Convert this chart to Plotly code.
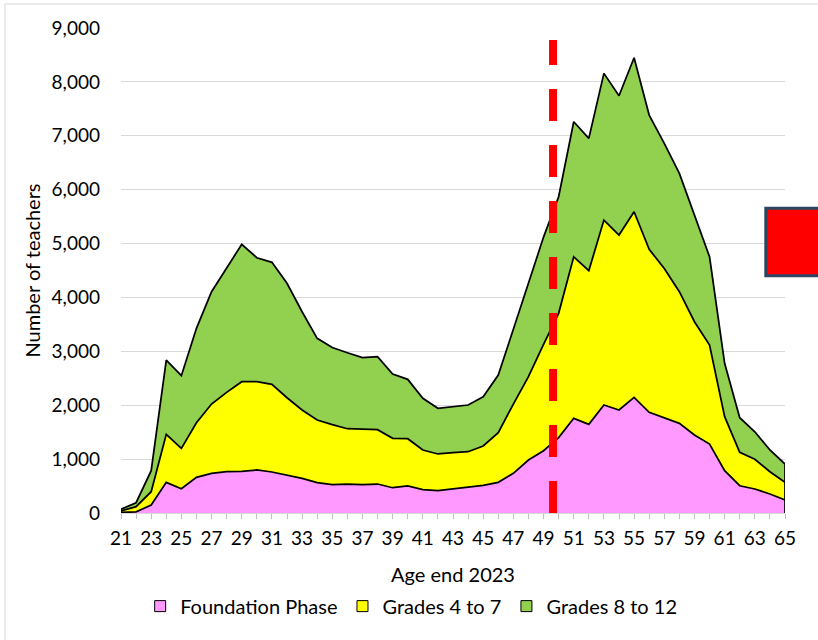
import plotly.graph_objects as go

ages = list(range(21, 66))

foundation = [10, 20, 148, 569, 451, 662, 736, 766, 773, 798,
              761, 705, 644, 562, 525, 538, 525, 538, 469, 501,
              432, 414, 451, 477, 514, 569, 736, 983, 1156, 1400,
              1757, 1645, 2004, 1911, 2146, 1868, 1768, 1664, 1447, 1280,
              785, 506, 445, 353, 241]

grades_4_7 = [27, 97, 247, 891, 749, 1013, 1286, 1473, 1663, 1638,
              1627, 1434, 1267, 1163, 1115, 1026, 1033, 1008, 917, 878,
              737, 681, 668, 660, 729, 921, 1286, 1546, 1974, 2305,
              2998, 2851, 3432, 3247, 3444, 3024, 2771, 2442, 2102, 1837,
              1002, 620, 551, 413, 328]

grades_8_12 = [32, 74, 390, 1378, 1348, 1752, 2084, 2319, 2549, 2301,
               2263, 2123, 1824, 1516, 1430, 1410, 1324, 1354, 1193, 1101,
               959, 847, 853, 867, 915, 1070, 1388, 1751, 1990, 2163,
               2505, 2456, 2722, 2585, 2858, 2492, 2320, 2196, 1980, 1638,
               990, 642, 512, 403, 340]

series_names = ["Foundation Phase", "Grades 4 to 7", "Grades 8 to 12"]
series_colors = ["#FF99FF", "#FFFF00", "#92D050"]
series_values = [foundation, grades_4_7, grades_8_12]

marker_age = 49.63       # position of the red dashed marker line
marker_top = 8776

FONT = "Lato"

fig = go.Figure()

for name, col, vals in zip(series_names, series_colors, series_values):
    fig.add_trace(go.Scatter(
        x=ages, y=vals, stackgroup="one", mode="lines",
        line=dict(color="black", width=1.75),
        fillcolor=col, name=name, showlegend=False,
    ))

# vertical edges of the stacked areas at both ends
for i in (0, -1):
    total = foundation[i] + grades_4_7[i] + grades_8_12[i]
    fig.add_trace(go.Scatter(
        x=[ages[i], ages[i]], y=[0, total], mode="lines",
        line=dict(color="black", width=1.75), showlegend=False, hoverinfo="skip",
    ))

# legend entries (square swatches)
for name, col in zip(series_names, series_colors):
    fig.add_trace(go.Scatter(
        x=[None], y=[None], mode="markers", name=name,
        marker=dict(symbol="square", size=11, color=col,
                    line=dict(color="black", width=1)),
    ))

fig.add_shape(type="line", xref="x", yref="y",
              x0=marker_age, x1=marker_age, y0=0, y1=marker_top,
              line=dict(color="#FF0000", width=8, dash="32px,24px"))

fig.add_shape(type="rect", xref="paper", yref="paper",
              x0=0.9711, x1=1.2, y0=0.4891, y1=0.6285,
              fillcolor="#FF0000", line=dict(color="#2B4560", width=3))

# chart-area border
fig.add_shape(type="rect", xref="paper", yref="paper",
              x0=-0.1747, x1=1.2, y0=-0.4, y1=1.0495,
              line=dict(color="#D9D9D9", width=1), layer="below")

fig.update_layout(
    width=818, height=640,
    margin=dict(l=121, r=33, t=28, b=127),
    paper_bgcolor="white", plot_bgcolor="white",
    font=dict(family=FONT, size=19, color="black"),
    showlegend=True,
    legend=dict(orientation="h", x=0.437, xanchor="center",
                y=-0.192, yanchor="middle", font=dict(size=20),
                traceorder="normal",
                bgcolor="rgba(0,0,0,0)", itemwidth=30),
    xaxis=dict(
        range=[21, 65], tickmode="linear", tick0=21, dtick=2,
        ticks="outside", ticklen=5, tickcolor="#BFBFBF",
        minor=dict(tick0=21, dtick=1, ticks="outside", ticklen=5, tickcolor="#BFBFBF"),
        showline=True, linecolor="#D9D9D9", linewidth=1,
        showgrid=False, zeroline=False,
        tickfont=dict(size=19), ticklabelstandoff=3,
        title=dict(text="Age end 2023", font=dict(size=20), standoff=20),
    ),
    yaxis=dict(
        range=[0, 9000], tickmode="linear", tick0=0, dtick=1000,
        tickformat=",", showgrid=True, gridcolor="#D9D9D9", gridwidth=1,
        zeroline=False, showline=False, ticks="", ticklabelstandoff=20,
        tickfont=dict(size=19),
        title=dict(text="Number of teachers", font=dict(size=20), standoff=5),
    ),
)

fig.write_html("out.html",
               config={"displayModeBar": False},
               post_script="document.body.style.margin='0px';document.body.style.overflow='hidden';")
